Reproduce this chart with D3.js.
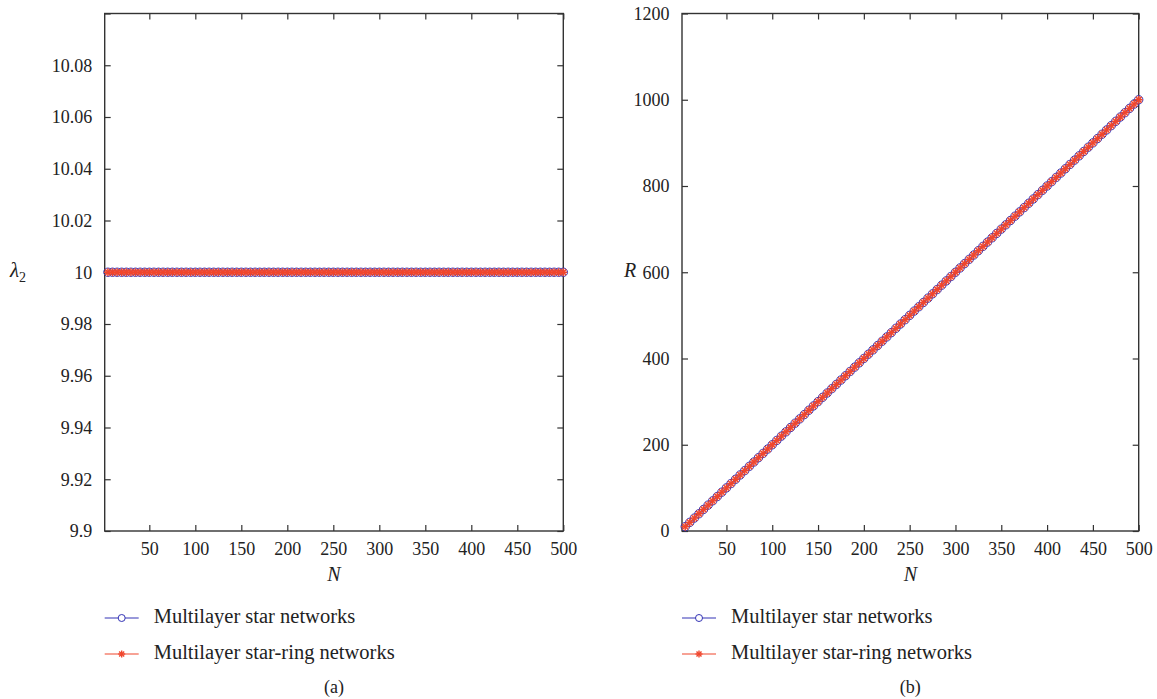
<!DOCTYPE html>
<html>
<head>
<meta charset="utf-8">
<script src="https://cdn.jsdelivr.net/npm/d3@7"></script>
<style>
  html, body { margin: 0; padding: 0; background: #fff; }
  svg { display: block; }
  text { font-family: "Liberation Serif", "Times New Roman", serif; fill: #222; }
</style>
</head>
<body>
<svg id="chart" width="1157" height="699"></svg>
<script>
// Network size N (x values shared by both panels)
const sizes = [5,10,15,20,25,30,35,40,45,50,55,60,65,70,75,80,85,90,95,100,
  105,110,115,120,125,130,135,140,145,150,155,160,165,170,175,180,185,190,195,200,
  205,210,215,220,225,230,235,240,245,250,255,260,265,270,275,280,285,290,295,300,
  305,310,315,320,325,330,335,340,345,350,355,360,365,370,375,380,385,390,395,400,
  405,410,415,420,425,430,435,440,445,450,455,460,465,470,475,480,485,490,495,500];

// Panel (a): second smallest Laplacian eigenvalue, identical for both network types
const lambdaStar = [10,10,10,10,10,10,10,10,10,10,10,10,10,10,10,10,10,10,10,10,
  10,10,10,10,10,10,10,10,10,10,10,10,10,10,10,10,10,10,10,10,
  10,10,10,10,10,10,10,10,10,10,10,10,10,10,10,10,10,10,10,10,
  10,10,10,10,10,10,10,10,10,10,10,10,10,10,10,10,10,10,10,10,
  10,10,10,10,10,10,10,10,10,10,10,10,10,10,10,10,10,10,10,10];
const lambdaStarRing = lambdaStar.slice();

// Panel (b): R grows linearly with N
const rStar = [10,20,30,40,50,60,70,80,90,100,110,120,130,140,150,160,170,180,190,200,
  210,220,230,240,250,260,270,280,290,300,310,320,330,340,350,360,370,380,390,400,
  410,420,430,440,450,460,470,480,490,500,510,520,530,540,550,560,570,580,590,600,
  610,620,630,640,650,660,670,680,690,700,710,720,730,740,750,760,770,780,790,800,
  810,820,830,840,850,860,870,880,890,900,910,920,930,940,950,960,970,980,990,1000];
const rStarRing = rStar.slice();

const xTicks = [50,100,150,200,250,300,350,400,450,500];
const yTicksA = [9.9,9.92,9.94,9.96,9.98,10,10.02,10.04,10.06,10.08,10.1];
const yTicksB = [0,200,400,600,800,1000,1200];
const seriesNames = ["Multilayer star networks", "Multilayer star-ring networks"];

const blue = "#3333b5";
const red = "#f0462d";
const axisColor = "#333";
const serif = "'Liberation Serif', 'Times New Roman', serif";

const svg = d3.select("#chart");

function asterisk(g, r) {
  g.append("line").attr("x1", -r).attr("x2", r).attr("y1", 0).attr("y2", 0);
  g.append("line").attr("x1", 0).attr("x2", 0).attr("y1", -r).attr("y2", r);
  const d = r * 0.72;
  g.append("line").attr("x1", -d).attr("x2", d).attr("y1", -d).attr("y2", d);
  g.append("line").attr("x1", -d).attr("x2", d).attr("y1", d).attr("y2", -d);
}

function panel(opts) {
  const { left, right, top, bottom, yDomain, yTicks, yFmt, yA, yB, yLabel, tag } = opts;
  const x = d3.scaleLinear().domain([1.5, 500]).range([left, right]);
  const y = d3.scaleLinear().domain(yDomain).range([bottom, top]);
  const g = svg.append("g");
  const tickLen = 6;

  // Bottom and left axes, ticks pointing inward
  const xAxis = d3.axisBottom(x).tickValues(xTicks).tickSizeInner(-tickLen).tickSizeOuter(0).tickPadding(11);
  const yAxis = d3.axisLeft(y).tickValues(yTicks).tickSizeInner(-tickLen).tickSizeOuter(0).tickPadding(12.5)
    .tickFormat(yFmt);
  const gx = g.append("g").attr("transform", `translate(0,${bottom})`).call(xAxis);
  const gy = g.append("g").attr("transform", `translate(${left},0)`).call(yAxis);
  // Mirrored ticks on top and right edges
  const gxt = g.append("g").attr("transform", `translate(0,${top})`)
    .call(d3.axisTop(x).tickValues(xTicks).tickSizeInner(-tickLen).tickSizeOuter(0).tickFormat(""));
  const gyr = g.append("g").attr("transform", `translate(${right},0)`)
    .call(d3.axisRight(y).tickValues(yTicks).tickSizeInner(-tickLen).tickSizeOuter(0).tickFormat(""));
  [gx, gy, gxt, gyr].forEach(a => {
    a.attr("font-family", serif).attr("font-size", 18);
    a.select(".domain").remove();
    a.selectAll(".tick line").attr("stroke", axisColor).attr("stroke-width", 1.2);
    a.selectAll(".tick text").attr("fill", "#222");
  });
  g.append("rect").attr("x", left).attr("y", top).attr("width", right - left).attr("height", bottom - top)
    .attr("fill", "none").attr("stroke", axisColor).attr("stroke-width", 1.4);

  // Series: blue circles first, red asterisks on top
  const line = d3.line().x(d => x(d[0])).y(d => y(d[1]));
  const ptsA = sizes.map((n, i) => [n, yA[i]]);
  const ptsB = sizes.map((n, i) => [n, yB[i]]);
  g.append("path").datum(ptsA).attr("d", line).attr("fill", "none").attr("stroke", blue).attr("stroke-width", 1);
  g.append("g").selectAll("circle").data(ptsA).join("circle")
    .attr("cx", d => x(d[0])).attr("cy", d => y(d[1])).attr("r", 4.2)
    .attr("fill", "none").attr("stroke", blue).attr("stroke-width", 1);
  g.append("path").datum(ptsB).attr("d", line).attr("fill", "none").attr("stroke", red).attr("stroke-width", 1.2);
  const stars = g.append("g").attr("stroke", red).attr("stroke-width", 1.5);
  ptsB.forEach(d => {
    asterisk(stars.append("g").attr("transform", `translate(${x(d[0])},${y(d[1])})`), 4);
  });

  const cx = (left + right) / 2;
  // Axis titles
  g.append("text").attr("x", cx).attr("y", 581).attr("text-anchor", "middle")
    .attr("font-size", 20).attr("font-style", "italic").text("N");
  yLabel(g, y);

  // Legend
  const lx = left, tx = left + 49;
  const rows = [618, 654];
  g.append("line").attr("x1", lx).attr("x2", lx + 34).attr("y1", rows[0]).attr("y2", rows[0])
    .attr("stroke", blue).attr("stroke-width", 1);
  g.append("circle").attr("cx", lx + 17).attr("cy", rows[0]).attr("r", 3.5)
    .attr("fill", "#fff").attr("stroke", blue).attr("stroke-width", 1);
  g.append("line").attr("x1", lx).attr("x2", lx + 34).attr("y1", rows[1]).attr("y2", rows[1])
    .attr("stroke", red).attr("stroke-width", 1.2);
  const ls = g.append("g").attr("stroke", red).attr("stroke-width", 1.4)
    .attr("transform", `translate(${lx + 17},${rows[1]})`);
  asterisk(ls, 3.5);
  seriesNames.forEach((s, i) => {
    g.append("text").attr("x", tx).attr("y", rows[i] + 5).attr("font-size", 20.5).text(s);
  });

  g.append("text").attr("x", cx).attr("y", 693).attr("text-anchor", "middle")
    .attr("font-size", 18).text(tag);
}

const fmtA = d => (d === 10.1 ? "" : d3.format("")(+d.toFixed(2)));

panel({
  left: 104.7, right: 563.3, top: 13.5, bottom: 531,
  yDomain: [9.9, 10.1], yTicks: yTicksA, yFmt: fmtA,
  yA: lambdaStar, yB: lambdaStarRing, tag: "(a)",
  yLabel: (g, y) => {
    const t = g.append("text").attr("x", 10).attr("y", y(10) + 5).attr("font-size", 21);
    t.append("tspan").attr("font-style", "italic").text("λ");
    t.append("tspan").attr("font-size", 14).attr("dy", 5).text("2");
  }
});

panel({
  left: 682, right: 1138.7, top: 13.5, bottom: 531,
  yDomain: [0, 1200], yTicks: yTicksB, yFmt: d3.format(""),
  yA: rStar, yB: rStarRing, tag: "(b)",
  yLabel: (g, y) => {
    g.append("text").attr("x", 630).attr("y", 277).attr("text-anchor", "middle")
      .attr("font-size", 20).attr("font-style", "italic").text("R");
  }
});
</script>
</body>
</html>
